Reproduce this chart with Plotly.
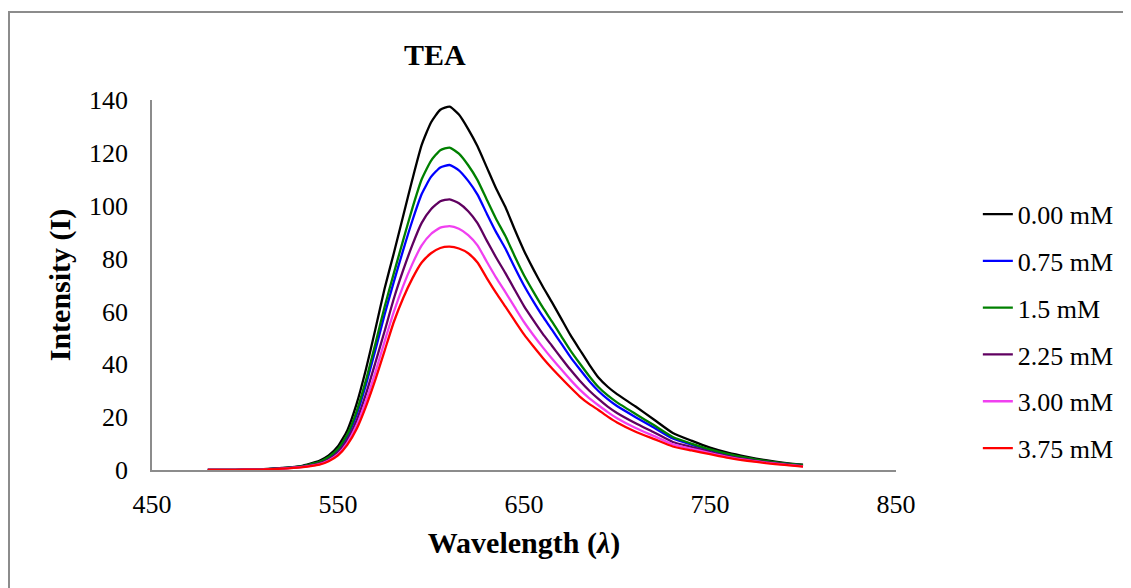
import plotly.graph_objects as go

wavelength = [480, 490, 500, 510, 520, 530,
              540, 545, 550, 555, 560, 565, 570, 575, 580, 585, 590, 595, 600, 605, 610,
              615, 620, 625, 630, 635, 640, 645, 650, 655, 660, 665, 670, 675, 680, 685,
              690, 695, 700,
              710, 720, 730, 740, 750, 760, 770, 780, 790, 800]

i_000 = [0, 0, 0.1, 0.3, 0.8, 1.5,
         3.5, 5.5, 9, 15, 25, 38, 53, 68.5, 82, 96, 110, 123, 131.5, 136.3, 137.5,
         134.5, 129, 122.5, 114.5, 106.5, 99.5, 91, 83, 76, 69.5, 63.5, 57.3, 51, 45.5, 40,
         35, 31.5, 28.7,
         24, 19, 14, 11.1, 8.5, 6.5, 5, 3.7, 2.7, 2]
i_075 = [0, 0, 0.1, 0.26, 0.67, 1.3,
         2.9, 4.6, 7.5, 12.7, 21, 32.2, 45.1, 58.7, 71.2, 83.1, 94.4, 104.4, 110.9, 114.5, 115.4,
         113.4, 109.4, 104.2, 97, 90, 83.8, 76.6, 69.8, 63.8, 58.2, 53.1, 47.9, 42.7, 38.1, 33.7,
         29.9, 26.8, 24.2,
         20, 16, 11.9, 9.6, 7.5, 5.7, 4.4, 3.2, 2.4, 1.7]
i_150 = [0, 0, 0.1, 0.27, 0.7, 1.35,
         3.1, 4.9, 8.0, 13.4, 22.2, 33.9, 47.5, 61.6, 74.4, 86.9, 99.1, 110, 117, 121, 122,
         119.7, 115.3, 109.7, 102.3, 95, 88.5, 80.9, 73.7, 67.5, 61.6, 56.2, 50.7, 45.2, 40.3, 35.6,
         31.4, 28.2, 25.6,
         21.2, 16.9, 12.5, 10, 7.8, 6, 4.6, 3.4, 2.5, 1.8]
i_225 = [0, 0, 0.1, 0.23, 0.6, 1.17,
         2.5, 4.0, 6.7, 11.4, 18.7, 28.7, 40.4, 52.4, 64.8, 75.5, 85.2, 93.5, 98.7, 101.7, 102.4,
         100.9, 97.9, 93.4, 86.8, 80.4, 74.5, 68.2, 62, 56.7, 51.6, 47, 42.4, 37.9, 33.8, 30.1,
         26.9, 24, 21.6,
         17.7, 14.2, 10.6, 8.7, 6.8, 5.2, 4, 3, 2.2, 1.5]
i_300 = [0, 0, 0.1, 0.2, 0.55, 1.07,
         2.2, 3.6, 6.0, 10.3, 16.9, 26.1, 36.8, 48.5, 59.8, 69.6, 78, 85, 89.3, 91.7, 92.3,
         91.3, 88.9, 85, 78.8, 72.8, 67.3, 61.6, 56, 51.1, 46.5, 42.2, 38.1, 34.1, 30.4, 27.2,
         24.5, 21.9, 19.6,
         15.9, 12.8, 9.7, 8, 6.4, 4.9, 3.7, 2.8, 2, 1.4]
i_375 = [0, 0, 0.1, 0.2, 0.5, 1.0,
         2, 3.3, 5.5, 9.5, 15.5, 24, 34, 45, 56, 65, 72.5, 78.5, 82, 84, 84.5,
         83.8, 82, 78.5, 72.6, 67, 61.8, 56.5, 51.3, 46.8, 42.5, 38.5, 34.8, 31.2, 27.8, 25,
         22.7, 20.2, 18,
         14.5, 11.7, 8.9, 7.4, 6, 4.6, 3.5, 2.6, 1.9, 1.3]

series_names = ["0.00 mM", "0.75 mM", "1.5 mM", "2.25 mM", "3.00 mM", "3.75 mM"]
series_values = [i_000, i_075, i_150, i_225, i_300, i_375]
series_colors = ["#000000", "#0000FF", "#008000", "#600060", "#F040F0", "#FF0000"]

x_ticks = [450, 550, 650, 750, 850]
y_ticks = [0, 20, 40, 60, 80, 100, 120, 140]

SERIF = "Liberation Serif, Times New Roman, serif"

fig = go.Figure()
for name, vals, col in zip(series_names, series_values, series_colors):
    fig.add_trace(go.Scatter(
        x=wavelength, y=vals, mode="lines", name=name, legendgroup=name,
        line=dict(color=col, width=2.3, shape="spline", smoothing=0.5),
    ))

axis_gray = "#8c8c8c"
fig.update_layout(
    width=1123, height=580,
    margin=dict(l=144, r=235, t=92, b=118),
    paper_bgcolor="white", plot_bgcolor="white",
    font=dict(family=SERIF, size=26, color="black"),
    showlegend=True,
    legend=dict(x=1.11, y=0.755, xanchor="left", yanchor="top",
                font=dict(family=SERIF, size=26, color="black"),
                tracegroupgap=10, bgcolor="rgba(0,0,0,0)"),
    xaxis=dict(range=[450, 850], tickvals=x_ticks, ticktext=[str(v) for v in x_ticks],
               showgrid=False, zeroline=False, showline=True, linecolor=axis_gray, linewidth=1.5,
               ticks="", ticklabelstandoff=10,
               tickfont=dict(family=SERIF, size=26),
               title=dict(text="<b>Wavelength (<i>λ</i>)</b>", font=dict(family=SERIF, size=30),
                          standoff=14)),
    yaxis=dict(range=[0, 140], tickvals=y_ticks,
               showgrid=False, zeroline=False, showline=True, linecolor=axis_gray, linewidth=1.5,
               ticks="", ticklabelstandoff=17,
               tickfont=dict(family=SERIF, size=26),
               title=dict(text="<b>Intensity (I)</b>", font=dict(family=SERIF, size=30),
                          standoff=10)),
    annotations=[dict(text="<b>TEA</b>", xref="paper", yref="paper", x=0.38, y=1.122,
                      xanchor="center", yanchor="middle", showarrow=False,
                      font=dict(family=SERIF, size=30, color="black"))],
    shapes=[dict(type="rect", xref="paper", yref="paper",
                 x0=-0.1922, y0=-0.35, x1=1.35, y1=1.2378,
                 line=dict(color=axis_gray, width=2), fillcolor="rgba(0,0,0,0)", layer="below")],
)

fig.write_html("out.html")
